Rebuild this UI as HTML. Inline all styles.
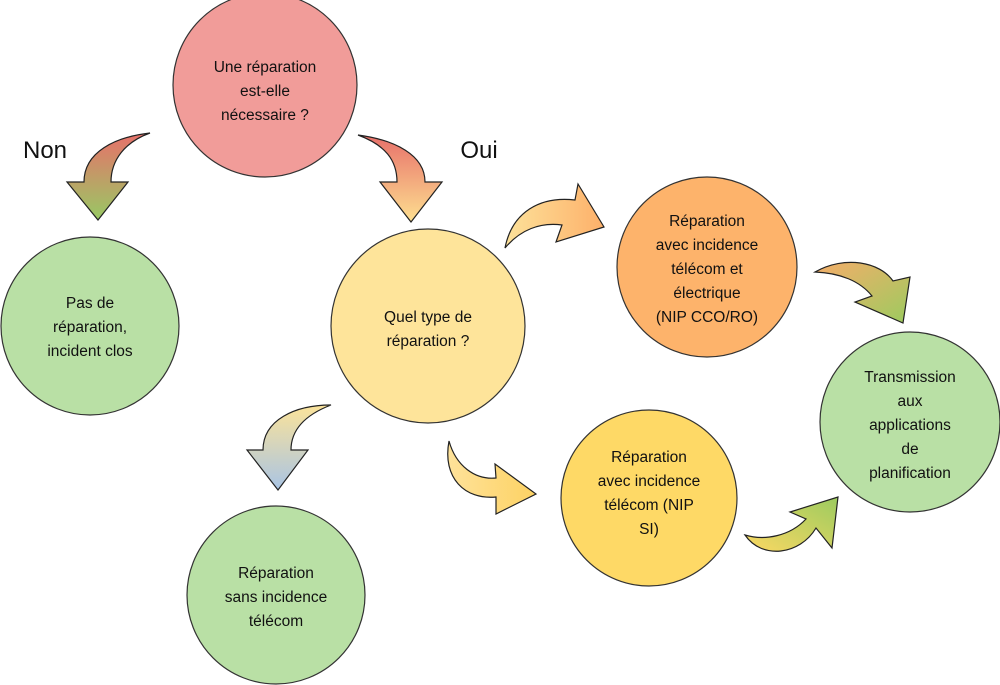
<!DOCTYPE html>
<html><head><meta charset="utf-8"><style>
body{margin:0;background:#fff;}
svg{display:block;font-family:"Liberation Sans",sans-serif;}
.c{stroke:#333;stroke-width:1.2;}
.a{stroke:#222;stroke-width:1.2;}
text{font-size:15.5px;fill:#111;text-anchor:middle;}
</style></head><body>
<svg width="1000" height="685" viewBox="0 0 1000 685">
<defs>
<linearGradient id="g1" x1="0" y1="0" x2="0" y2="1"><stop offset="0" stop-color="#e8706a"/><stop offset="1" stop-color="#98c964"/></linearGradient>
<linearGradient id="g2" x1="0" y1="0" x2="0" y2="1"><stop offset="0" stop-color="#e8706a"/><stop offset="1" stop-color="#fddf90"/></linearGradient>
<linearGradient id="g3" x1="0" y1="0" x2="0" y2="1"><stop offset="0" stop-color="#fbe39a"/><stop offset="1" stop-color="#a9c4e4"/></linearGradient>
<linearGradient id="g4" x1="0" y1="0" x2="1" y2="0"><stop offset="0" stop-color="#fde29a"/><stop offset="1" stop-color="#fdb06a"/></linearGradient>
<linearGradient id="g5" x1="0" y1="0" x2="1" y2="0"><stop offset="0" stop-color="#fee29a"/><stop offset="1" stop-color="#fdd263"/></linearGradient>
<linearGradient id="g6" x1="0" y1="0" x2="1" y2="1"><stop offset="0" stop-color="#f5ad6a"/><stop offset="1" stop-color="#9ccb5f"/></linearGradient>
<linearGradient id="g7" x1="0" y1="1" x2="1" y2="0"><stop offset="0" stop-color="#fcd863"/><stop offset="1" stop-color="#9ccb5f"/></linearGradient>
</defs>
<circle class="c" cx="265" cy="85" r="92" fill="#f19c99"/>
<circle class="c" cx="90" cy="326" r="89" fill="#b9e0a5"/>
<circle class="c" cx="428" cy="326" r="97" fill="#fee49a"/>
<circle class="c" cx="707" cy="267" r="90" fill="#fdb36b"/>
<circle class="c" cx="910" cy="422" r="90" fill="#b9e0a5"/>
<circle class="c" cx="649" cy="498" r="88" fill="#fed966"/>
<circle class="c" cx="276" cy="595" r="89" fill="#b9e0a5"/>

<path class="a" fill="url(#g1)" d="M150,133 C115,137 84,152 84,182 L67,182 L98,220 L128,182 L111,182 C111,160 125,142 150,133 Z"/>
<path class="a" fill="url(#g2)" d="M358,135 C395,140 425,155 425,182 L442,182 L411,222 L380,182 L397,182 C397,160 385,145 358,135 Z"/>
<path class="a" fill="url(#g3)" d="M331,405 C295,405 263,420 263,450 L247,450 L278,490 L308,450 L291,450 C291,430 305,415 331,405 Z"/>
<path class="a" fill="url(#g4)" d="M505,248 C512,212 540,196 575,200 L578,184 L604,227 L556,242 L562,225 C540,222 520,230 505,248 Z"/>
<path class="a" fill="url(#g5)" d="M449,441 C442,478 465,500 496,497 L496,514 L536,494 L495,464 L496,478 C475,480 456,466 449,441 Z"/>
<path class="a" fill="url(#g6)" d="M815,272 C845,255 880,262 893,281 L910,277 L903,323 L855,302 L872,296 C860,281 840,273 815,272 Z"/>
<path class="a" fill="url(#g7)" d="M745,535 C762,560 800,555 816,528 L832,548 L838,497 L790,512 L806,519 C790,536 765,541 745,535 Z"/>

<text x="45" y="158" style="font-size:24px">Non</text>
<text x="479" y="158" style="font-size:24px">Oui</text>

<text x="265" y="72">Une réparation</text><text x="265" y="96">est-elle</text><text x="265" y="120">nécessaire ?</text>
<text x="90" y="308">Pas de</text><text x="90" y="332">réparation,</text><text x="90" y="356">incident clos</text>
<text x="428" y="322">Quel type de</text><text x="428" y="346">réparation ?</text>
<text x="707" y="226">Réparation</text><text x="707" y="250">avec incidence</text><text x="707" y="274">télécom et</text><text x="707" y="298">électrique</text><text x="707" y="322">(NIP CCO/RO)</text>
<text x="910" y="382">Transmission</text><text x="910" y="406">aux</text><text x="910" y="430">applications</text><text x="910" y="454">de</text><text x="910" y="478">planification</text>
<text x="649" y="462">Réparation</text><text x="649" y="486">avec incidence</text><text x="649" y="510">télécom (NIP</text><text x="649" y="534">SI)</text>
<text x="276" y="578">Réparation</text><text x="276" y="602">sans incidence</text><text x="276" y="626">télécom</text>
</svg>
</body></html>
